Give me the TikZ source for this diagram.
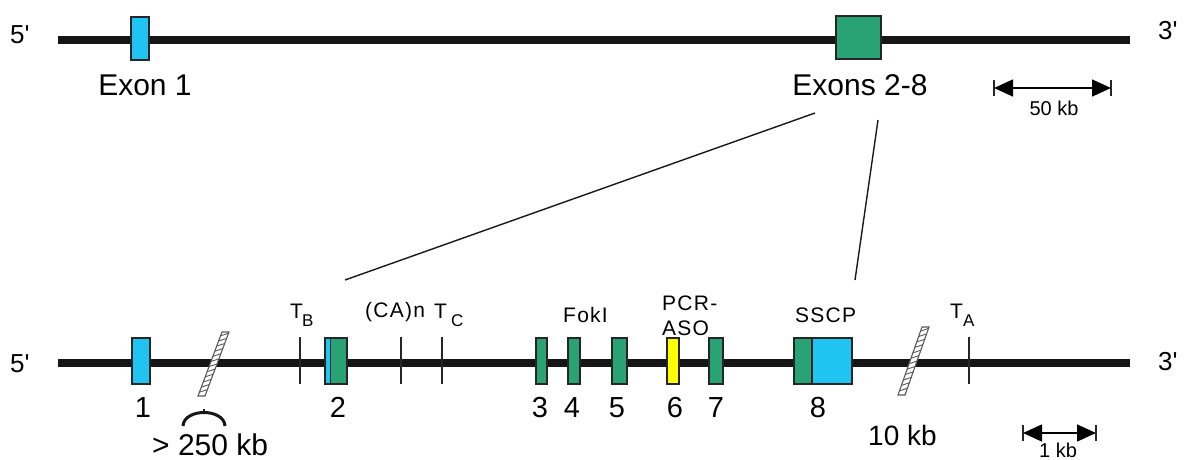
\documentclass[tikz,border=0pt]{standalone}
\usepackage{fontspec}
\setmainfont{Liberation Sans}
\newfontfamily\spc[LetterSpace=6]{Liberation Sans}
\usetikzlibrary{arrows.meta,calc}
\definecolor{excyan}{RGB}{32,196,242}
\definecolor{exgreen}{RGB}{42,163,116}
\definecolor{exyellow}{RGB}{255,255,0}
\definecolor{dnablack}{RGB}{22,22,22}
\begin{document}
\begin{tikzpicture}[x=1pt,y=-1pt,
  dna/.style={line width=8pt, draw=dnablack},
  exon/.style={draw=black!85, line width=1.3pt, inner sep=0pt, rectangle},
  tick/.style={line width=1.5pt, draw=black!85},
  conn/.style={line width=1.4pt, draw=black!90},
  big/.style={font=\fontsize{30}{30}\selectfont, inner sep=0pt, anchor=base},
  num/.style={font=\fontsize{29}{29}\selectfont, inner sep=0pt, anchor=base},
  prime/.style={font=\fontsize{26}{26}\selectfont, inner sep=0pt, anchor=base},
  small/.style={font=\fontsize{21}{21}\selectfont\spc, inner sep=0pt, anchor=base},
  sub/.style={font=\fontsize{17}{17}\selectfont, inner sep=0pt, anchor=base},
  scalebar/.style={line width=1.5pt, {Triangle[length=19pt,width=17pt]}-{Triangle[length=19pt,width=17pt]}},
  brk/.style={draw=black!65, line width=1.1pt, fill=white},
  rung/.style={draw=black!65, line width=0.9pt},
]
\useasboundingbox (0,0) rectangle (1184,459);

% ---------- top line ----------
\coordinate (t5) at (58,39.5);
\coordinate (t3) at (1130,39.5);
\draw[dna] (t5) -- (t3);
\node[prime, anchor=base west] (p5t) at (10,43) {5\textquotesingle};
\node[prime, anchor=base west] (p3t) at (1158,39) {3\textquotesingle};
\node[exon, fill=excyan, minimum width=18pt, minimum height=43pt] (E1) at (140,38.5) {};
\node[exon, fill=exgreen, minimum width=45pt, minimum height=43pt] (E28) at (858.5,37.5) {};
\node[big] (lE1) at (145,95) {Exon 1};
\node[big] (lE28) at (860,95) {Exons 2-8};

% scale bar 50 kb
\coordinate (sa) at (994,88);
\coordinate (sb) at (1111,88);
\draw[scalebar] (sa) -- (sb);
\draw[tick] ($(sa)+(0,-8)$) -- ($(sa)+(0,8)$);
\draw[tick] ($(sb)+(0,-8)$) -- ($(sb)+(0,8)$);
\node[font=\fontsize{20}{20}\selectfont, inner sep=0pt, anchor=base] (l50) at (1054,115) {50 kb};

% connectors
\coordinate (c1s) at (815,113);
\coordinate (c1e) at (345,280);
\coordinate (c2s) at (878,120);
\coordinate (c2e) at (855,280);
\draw[conn] (c1s) -- (c1e);
\draw[conn] (c2s) -- (c2e);

% ---------- bottom line ----------
\coordinate (b5) at (58,362.5);
\coordinate (b3) at (1130,362.5);
\draw[dna] (b5) -- (b3);
\node[prime, anchor=base west] (p5b) at (10,372) {5\textquotesingle};
\node[prime, anchor=base west] (p3b) at (1158,370) {3\textquotesingle};

% breaks
\coordinate (k1a) at (198,396); \coordinate (k1b) at (222,332);
\coordinate (k1c) at (205,396); \coordinate (k1d) at (229,332);
\draw[brk] (k1a) -- (k1b) -- (k1d) -- (k1c) -- cycle;
\foreach \t in {0.06,0.14,...,0.95}
  \draw[rung] ($(k1a)!\t!(k1b)$) -- ($(k1c)!\t+0.04!(k1d)$);
\coordinate (k2a) at (898,395); \coordinate (k2b) at (922,327);
\coordinate (k2c) at (905,395); \coordinate (k2d) at (929,327);
\draw[brk] (k2a) -- (k2b) -- (k2d) -- (k2c) -- cycle;
\foreach \t in {0.06,0.14,...,0.95}
  \draw[rung] ($(k2a)!\t!(k2b)$) -- ($(k2c)!\t+0.04!(k2d)$);

% arc under first break
\coordinate (ar1) at (183,426);
\coordinate (ar2) at (225,426);
\draw[line width=3pt, dnablack] (ar1) .. controls (184,408) and (224,408) .. (ar2);
\draw[line width=2pt, dnablack] (204,413) -- (204,409);

% ticks
\foreach \x/\n in {300/tB,401/tCA,442/tC,969/tA}
  \draw[tick] (\x,337) coordinate (\n top) -- (\x,384) coordinate (\n bot);

% exons
\node[exon, fill=excyan, minimum width=18pt, minimum height=46pt] (x1) at (141,361) {};
\node[exon, fill=exgreen, minimum width=22pt, minimum height=46pt,
  path picture={\fill[excyan] (path picture bounding box.north west) rectangle ([xshift=5pt]path picture bounding box.south west);
  \draw[black!85, line width=1pt] ([xshift=5pt]path picture bounding box.north west) -- ([xshift=5pt]path picture bounding box.south west);}] (x2) at (336,361) {};
\node[exon, fill=exgreen, minimum width=11pt, minimum height=46pt] (x3) at (541.5,361) {};
\node[exon, fill=exgreen, minimum width=12pt, minimum height=46pt] (x4) at (574,361) {};
\node[exon, fill=exgreen, minimum width=15pt, minimum height=46pt] (x5) at (619.5,361) {};
\node[exon, fill=exyellow, minimum width=12pt, minimum height=46pt] (x6) at (673,361) {};
\node[exon, fill=exgreen, minimum width=14pt, minimum height=46pt] (x7) at (716,361) {};
\node[exon, fill=excyan, minimum width=58pt, minimum height=46pt,
  path picture={\fill[exgreen] (path picture bounding box.north west) rectangle ([xshift=18pt]path picture bounding box.south west);
  \draw[black!85, line width=1.3pt] ([xshift=18pt]path picture bounding box.north west) -- ([xshift=18pt]path picture bounding box.south west);}] (x8) at (823,361) {};

% exon numbers
\foreach \x/\t in {143/1,338/2,540/3,572/4,617/5,675/6,716/7,818/8}
  \node[num] (n\t) at (\x,417) {\t};

% small labels
\node[small, anchor=base west] (lTB) at (290,318) {T};
\node[sub, anchor=base west] (lTBs) at (302,326) {B};
\node[small, anchor=base west] (lCA) at (365,317) {(CA)n};
\node[small, anchor=base west] (lTC) at (434,318) {T};
\node[sub, anchor=base west] (lTCs) at (451,326) {C};
\node[small, anchor=base west] (lFok) at (563,322) {FokI};
\node[small, anchor=base west] (lPCR) at (662,310) {PCR-};
\node[small, anchor=base west] (lASO) at (662,335) {ASO};
\node[small, anchor=base west] (lSSCP) at (795,322) {SSCP};
\node[small, anchor=base west] (lTA) at (950,318) {T};
\node[sub, anchor=base west] (lTAs) at (963,326) {A};

% bottom texts
\node[big, anchor=base west] (l250) at (152,455) {> 250 kb};
\node[big, font=\fontsize{28}{28}\selectfont, anchor=base west] (l10) at (868,445) {10 kb};

% scale bar 1 kb
\coordinate (sc) at (1023,433);
\coordinate (sd) at (1096,433);
\draw[scalebar] (sc) -- (sd);
\draw[tick] ($(sc)+(0,-8)$) -- ($(sc)+(0,8)$);
\draw[tick] ($(sd)+(0,-8)$) -- ($(sd)+(0,8)$);
\node[font=\fontsize{20}{20}\selectfont, inner sep=0pt, anchor=base] (l1kb) at (1058,457) {1 kb};
\end{tikzpicture}
\end{document}
